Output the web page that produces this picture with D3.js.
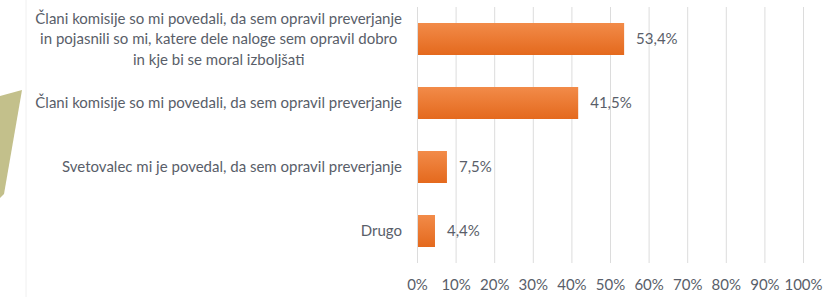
<!DOCTYPE html>
<html lang="sl">
<head>
  <meta charset="utf-8" />
  <title>Povratna informacija</title>
  <script src="https://cdn.jsdelivr.net/npm/d3@7"></script>
  <style>
body { margin: 0; background: #fff; }
text { font-family: Lato, "Open Sans", sans-serif; fill: #595e69; }
  </style>
</head>
<body>
<script>

var categories = [
  ["Člani komisije so mi povedali, da sem opravil preverjanje",
   "in pojasnili so mi, katere dele naloge sem opravil dobro",
   "in kje bi se moral izboljšati"],
  ["Člani komisije so mi povedali, da sem opravil preverjanje"],
  ["Svetovalec mi je povedal, da sem opravil preverjanje"],
  ["Drugo"]
];
var values = [53.4, 41.5, 7.5, 4.4];
var ticks = [0, 10, 20, 30, 40, 50, 60, 70, 80, 90, 100];

var w = 834, h = 297;
var pad = { left: 417, right: 31, top: 7, bottom: 34 };
var fontSize = 15;

var svg = d3.select("body").append("svg")
    .attr("width", w)
    .attr("height", h);

// slide decoration on the left edge
svg.append("polygon")
    .attr("points", "0,96 22,90 4,194 0,198")
    .attr("fill", "#c3c08b");
svg.append("line")
    .attr("x1", 26).attr("x2", 26)
    .attr("y1", 0).attr("y2", h)
    .attr("stroke", "#f0f0f0");

var grad = svg.append("defs").append("linearGradient")
    .attr("id", "barGrad")
    .attr("x1", 0).attr("y1", 0).attr("x2", 0).attr("y2", 1);
grad.append("stop").attr("offset", "0%").attr("stop-color", "#f28b49");
grad.append("stop").attr("offset", "100%").attr("stop-color", "#e4691d");

var x = d3.scaleLinear()
    .domain([0, 100])
    .range([pad.left, w - pad.right]);
var y = d3.scaleBand()
    .domain(d3.range(categories.length))
    .range([pad.top, h - pad.bottom])
    .paddingInner(0.5)
    .paddingOuter(0.25);

// gridlines
svg.append("g").selectAll("line")
    .data(ticks)
    .enter().append("line")
    .attr("x1", function(d) { return x(d) + 0.5; })
    .attr("x2", function(d) { return x(d) + 0.5; })
    .attr("y1", pad.top)
    .attr("y2", h - pad.bottom)
    .attr("stroke", "#dcdcdc");

// x axis labels
var xAxis = svg.append("g")
    .attr("transform", "translate(0," + (h - pad.bottom) + ")")
    .call(d3.axisBottom(x)
      .tickValues(ticks)
      .tickSize(0)
      .tickPadding(16)
      .tickFormat(function(d) { return d + "%"; }));
xAxis.select(".domain").remove();
xAxis.selectAll("text")
    .attr("font-size", fontSize)
    .attr("font-family", null)
    .attr("fill", null);

// bars
svg.append("g").selectAll("rect")
    .data(values)
    .enter().append("rect")
    .attr("x", x(0) + 1)
    .attr("y", function(d, i) { return y(i); })
    .attr("width", function(d) { return x(d) - x(0); })
    .attr("height", y.bandwidth())
    .attr("fill", "url(#barGrad)");

// value labels
svg.append("g").selectAll("text")
    .data(values)
    .enter().append("text")
    .attr("x", function(d) { return x(d) + 13; })
    .attr("y", function(d, i) { return y(i) + y.bandwidth() / 2; })
    .attr("dy", "0.35em")
    .attr("font-size", fontSize)
    .text(function(d) { return d.toFixed(1).replace(".", ",") + "%"; });

// category labels: block right-aligned, lines centered within block
var lineH = 20.5;
var labelRight = 402;
categories.forEach(function(lines, i) {
  var g = svg.append("g");
  var cy = y(i) + y.bandwidth() / 2;
  var t = g.selectAll("text")
      .data(lines)
      .enter().append("text")
      .attr("font-size", fontSize)
      .attr("y", function(d, j) { return cy + (j - (lines.length - 1) / 2) * lineH; })
      .attr("dy", "0.35em")
      .text(function(d) { return d; });
  var maxW = d3.max(t.nodes(), function(n) { return n.getComputedTextLength(); });
  t.attr("x", labelRight - maxW / 2)
   .attr("text-anchor", "middle");
});

</script>
</body>
</html>
